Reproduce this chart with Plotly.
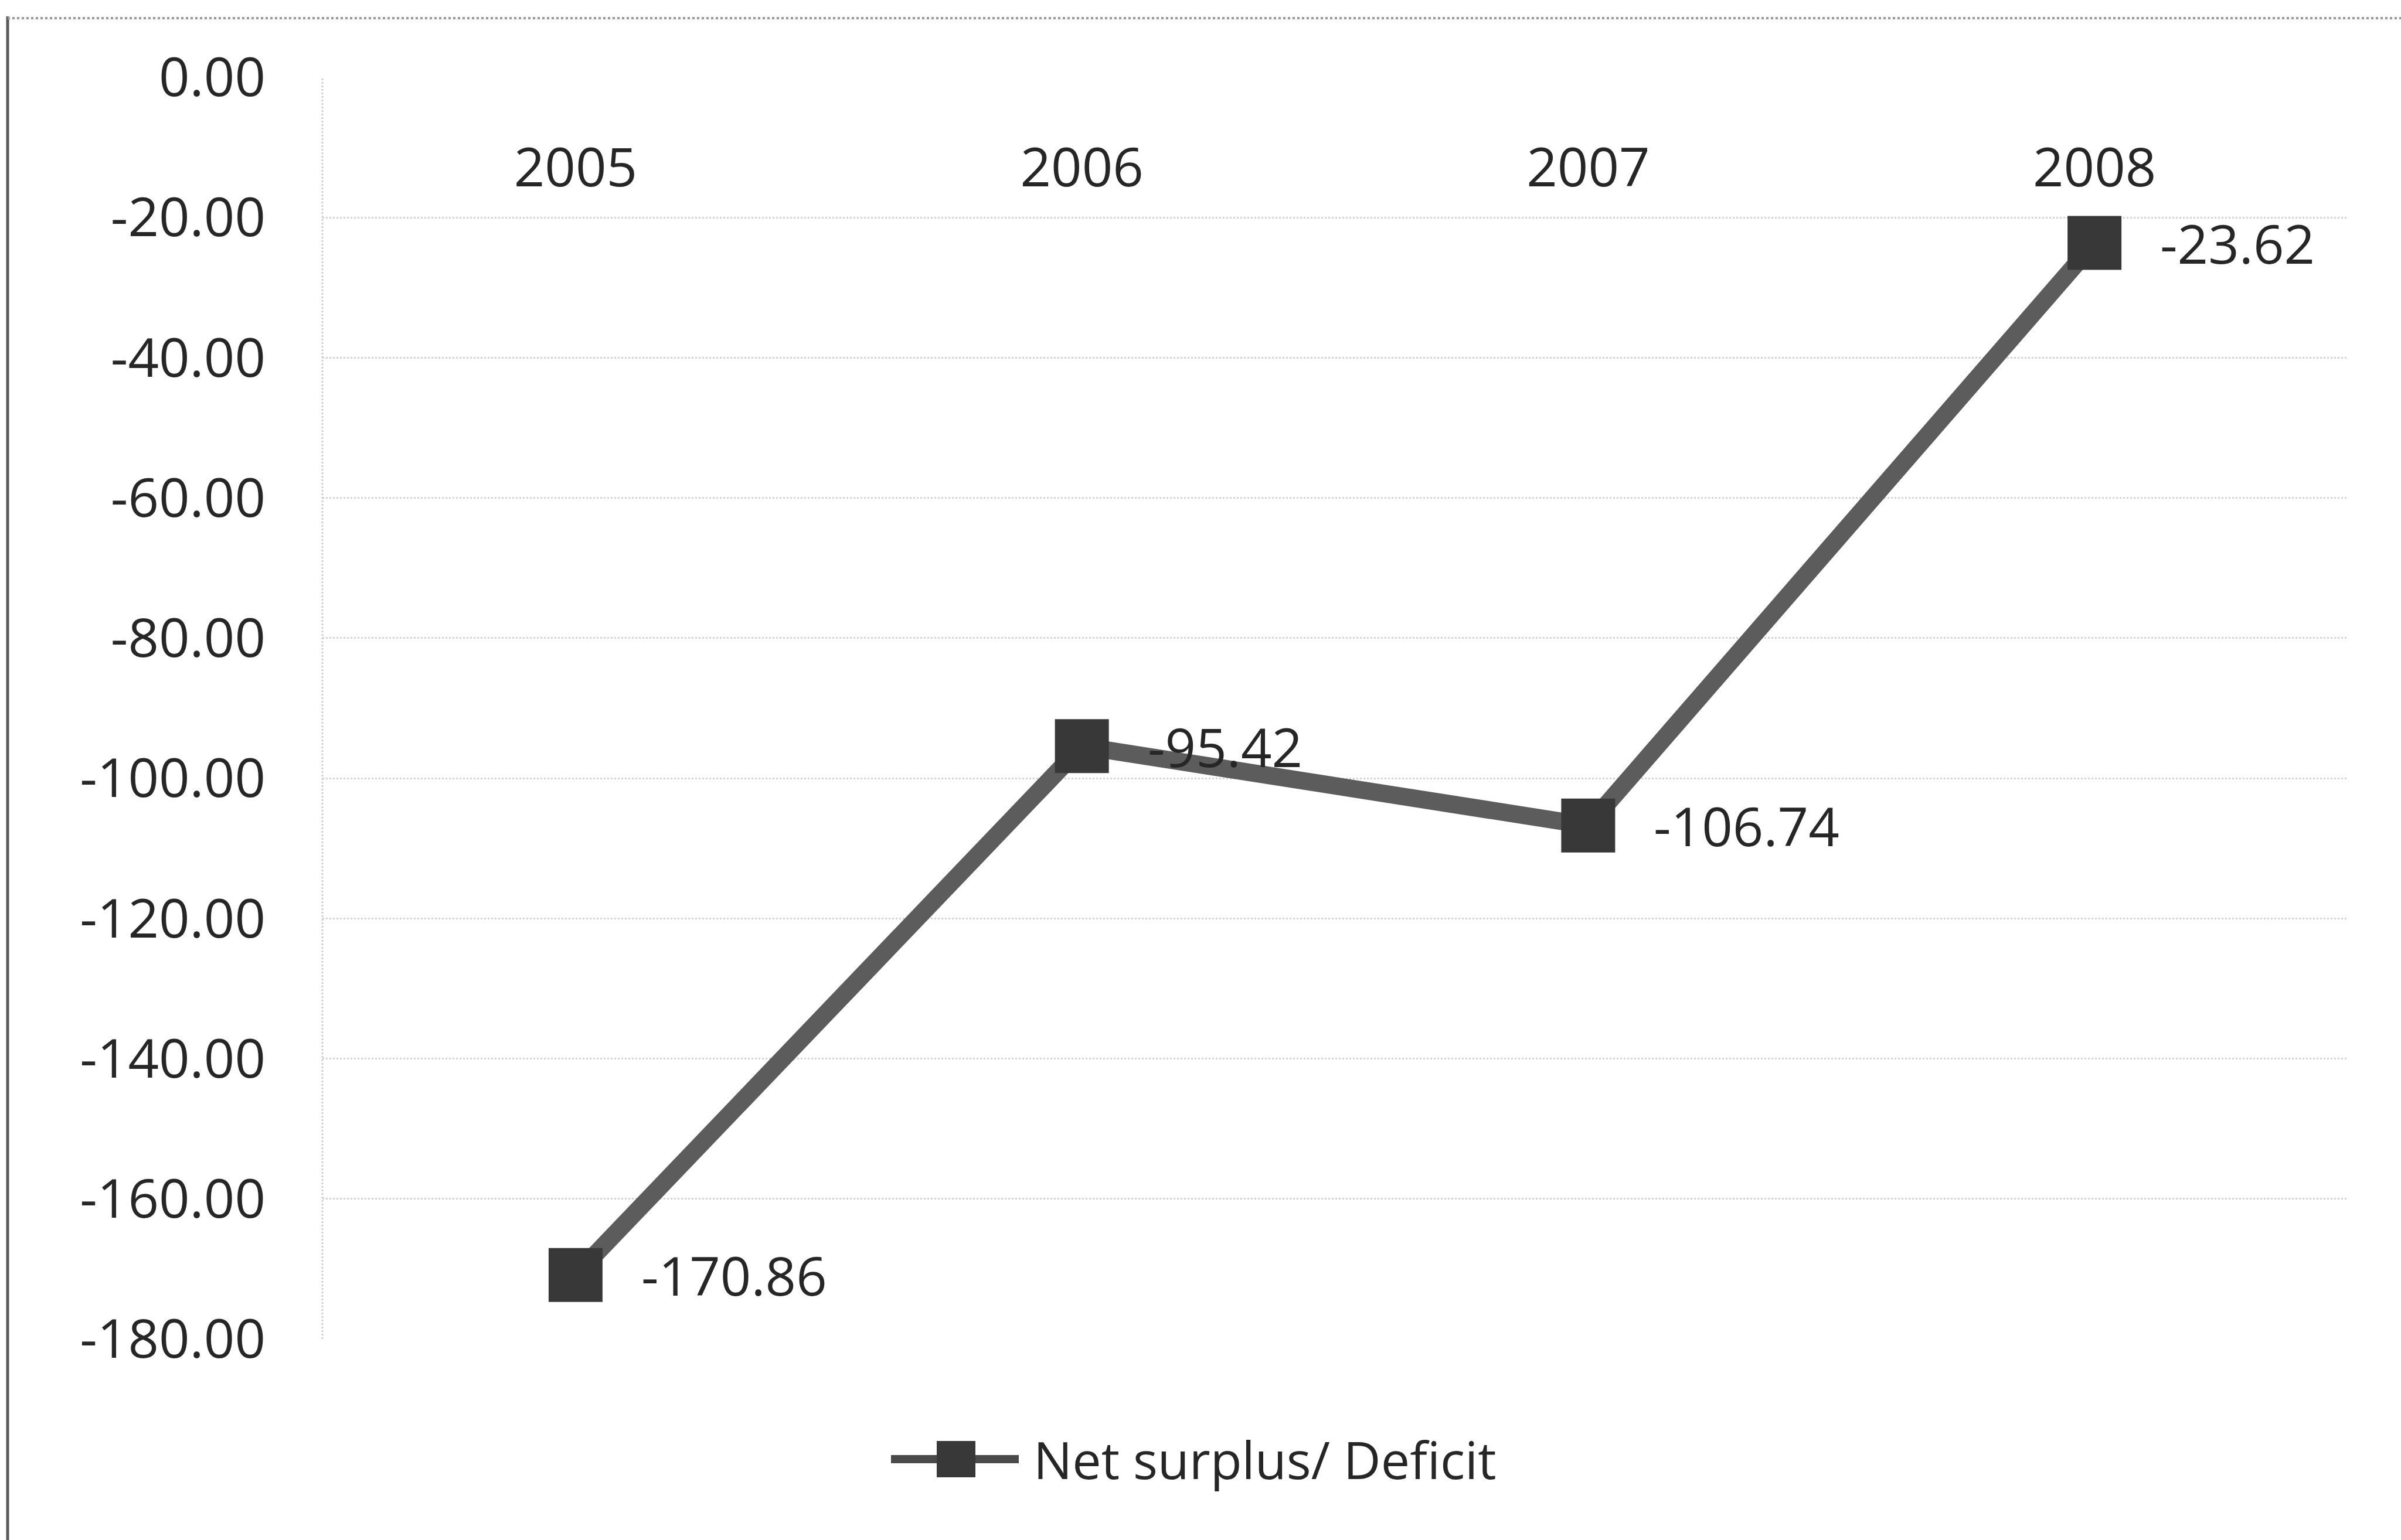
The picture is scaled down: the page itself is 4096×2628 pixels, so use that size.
import plotly.graph_objects as go

# ---- data ----
years = ["2005", "2006", "2007", "2008"]
net_values = [-170.86, -95.42, -106.74, -23.62]
series_name = "Net surplus/ Deficit"
y_tick_values = [0, -20, -40, -60, -80, -100, -120, -140, -160, -180]
y_tick_labels = ["0.00", "-20.00", "-40.00", "-60.00", "-80.00", "-100.00",
                 "-120.00", "-140.00", "-160.00", "-180.00"]
value_labels = [f"{v:.2f}" for v in net_values]

# ---- layout geometry (pixels) ----
W, H = 4096, 2628
L, R, T, B = 550, 91, 132, 343
PW = W - L - R
PH = H - T - B


def px(x):
    return (x - L) / PW


def py(y):
    return (H - B - y) / PH


FONT = "Open Sans"
TXT = "#262626"

fig = go.Figure()
fig.add_trace(go.Scatter(
    x=years, y=net_values, name=series_name,
    mode="lines+markers",
    line=dict(color="#5c5c5c", width=30),
    marker=dict(symbol="square", size=92, color="#383838", line=dict(width=0)),
    cliponaxis=False, showlegend=False,
))

annotations = []
for i, (v, lab) in enumerate(zip(net_values, value_labels)):
    annotations.append(dict(
        x=i, y=v, xref="x", yref="y", text=lab, showarrow=False,
        xanchor="left", yanchor="middle", xshift=110,
        font=dict(family=FONT, size=92, color=TXT),
    ))

# legend (drawn manually to match the large symbol)
annotations.append(dict(
    x=px(1761), y=py(2490), xref="paper", yref="paper", text=series_name,
    showarrow=False, xanchor="left", yanchor="middle",
    font=dict(family=FONT, size=88, color=TXT),
))

shapes = [
    # y axis line (faint dotted)
    dict(type="line", xref="paper", yref="paper", x0=0, x1=0, y0=0, y1=1,
         line=dict(color="#cfcfcf", width=3, dash="dot")),
    # chart border: left solid, top dotted
    dict(type="line", xref="paper", yref="paper", x0=px(13), x1=px(13),
         y0=py(2628), y1=py(28), line=dict(color="#5a5a5a", width=5)),
    dict(type="line", xref="paper", yref="paper", x0=px(13), x1=px(4096),
         y0=py(31), y1=py(31), line=dict(color="#9a9a9a", width=4, dash="dot")),
    # legend symbol
    dict(type="line", xref="paper", yref="paper", x0=px(1520), x1=px(1738),
         y0=py(2490), y1=py(2490), line=dict(color="#4a4a4a", width=14)),
    dict(type="rect", xref="paper", yref="paper", x0=px(1598), x1=px(1664),
         y0=py(2521), y1=py(2459), fillcolor="#383838", line=dict(width=0)),
]

fig.update_layout(
    width=W, height=H, autosize=False,
    margin=dict(l=L, r=R, t=T, b=B, pad=0),
    paper_bgcolor="white", plot_bgcolor="white",
    font=dict(family=FONT, size=92, color=TXT),
    showlegend=False,
    annotations=annotations,
    shapes=shapes,
    xaxis=dict(
        type="category", range=[-0.5, 3.5], anchor="free", position=py(225),
        side="bottom", showgrid=False, showline=False, zeroline=False,
        ticks="", tickfont=dict(family=FONT, size=92, color=TXT),
    ),
    yaxis=dict(
        range=[-180, 0], tickvals=y_tick_values, ticktext=y_tick_labels,
        showgrid=True, gridcolor="#d4d4d4", gridwidth=3, griddash="dot",
        zeroline=False, showline=False, ticks="", ticklabelstandoff=96,
        tickfont=dict(family=FONT, size=92, color=TXT),
    ),
)

fig.write_html("out.html", config={"displayModeBar": False})
